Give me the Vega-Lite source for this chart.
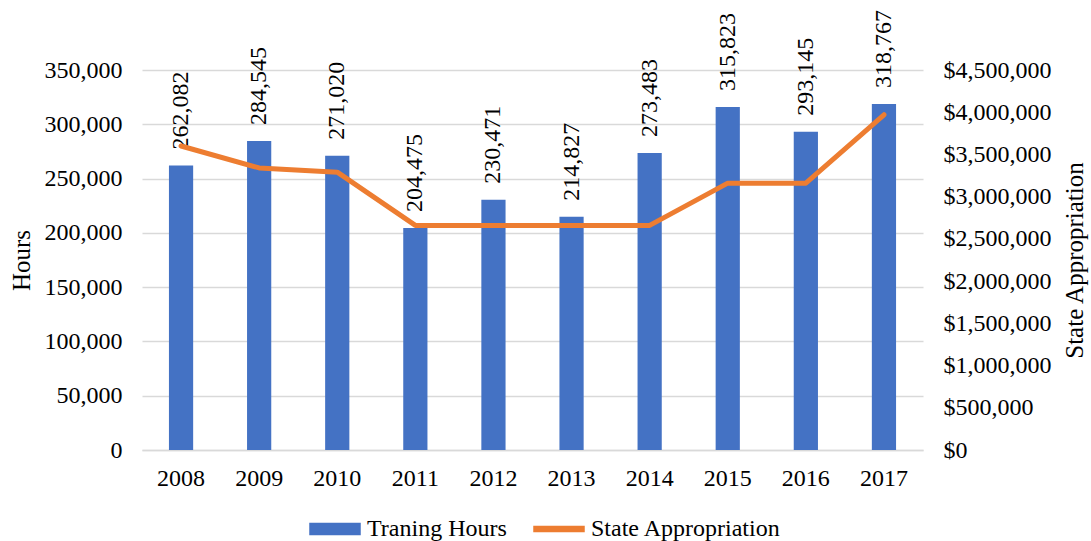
{
  "$schema": "https://vega.github.io/schema/vega-lite/v6.json",
  "width": 781,
  "height": 380,
  "autosize": {"type": "none"},
  "padding": {"left": 142, "top": 70, "right": 168, "bottom": 91},
  "background": "white",
  "config": {
    "view": {"stroke": null},
    "font": "Liberation Serif",
    "axis": {"labelFont": "Liberation Serif", "titleFont": "Liberation Serif", "labelColor": "#000000", "titleColor": "#000000", "labelFontSize": 24, "titleFontSize": 25, "titleFontWeight": "normal", "labelOverlap": false},
    "legend": {"labelFont": "Liberation Serif", "labelFontSize": 24, "labelColor": "#000000", "labelLimit": 0}
  },
  "data": {
    "values": [
      {"year": "2008", "hours": 262082, "appropriation": 3600000},
      {"year": "2009", "hours": 284545, "appropriation": 3340000},
      {"year": "2010", "hours": 271020, "appropriation": 3290000},
      {"year": "2011", "hours": 204475, "appropriation": 2660000},
      {"year": "2012", "hours": 230471, "appropriation": 2660000},
      {"year": "2013", "hours": 214827, "appropriation": 2660000},
      {"year": "2014", "hours": 273483, "appropriation": 2660000},
      {"year": "2015", "hours": 315823, "appropriation": 3160000},
      {"year": "2016", "hours": 293145, "appropriation": 3160000},
      {"year": "2017", "hours": 318767, "appropriation": 3970000}
    ]
  },
  "encoding": {
    "x": {
      "field": "year",
      "type": "ordinal",
      "scale": {"paddingInner": 0.69, "paddingOuter": 0.345},
      "axis": {"title": null, "labelAngle": 0, "ticks": false, "domainColor": "#D9D9D9", "domainWidth": 1.5, "labelPadding": 16}
    }
  },
  "layer": [
    {
      "layer": [
        {
          "mark": {"type": "bar", "color": "#4472C4"},
          "encoding": {
            "y": {
              "field": "hours",
              "type": "quantitative",
              "scale": {"domain": [0, 350000], "nice": false},
              "axis": {"title": "Hours", "format": ",d", "values": [0, 50000, 100000, 150000, 200000, 250000, 300000, 350000], "domain": false, "ticks": false, "gridColor": "#D9D9D9", "gridWidth": 1.5, "labelPadding": 20, "titlePadding": 10}
            },
            "color": {
              "datum": "Traning Hours",
              "type": "nominal",
              "scale": {"domain": ["Traning Hours", "State Appropriation"], "range": ["#4472C4", "#ED7D31"]},
              "legend": {
                "title": null,
                "orient": "none",
                "direction": "horizontal",
                "legendX": 167,
                "legendY": 433,
                "padding": 0,
                "columnPadding": 24,
                "labelOffset": 6,
                "labelLimit": 0,
                "symbolSize": 2500,
                "encode": {
                  "symbols": {
                    "update": {
                      "shape": {"signal": "datum.value === 'Traning Hours' ? 'M-1,-0.22H1V0.22H-1Z' : 'M-1,-0.1H1V0.1H-1Z'"},
                      "fill": {"signal": "datum.value === 'Traning Hours' ? '#4472C4' : '#ED7D31'"},
                      "stroke": {"value": "transparent"},
                      "opacity": {"value": 1}
                    }
                  }
                }
              }
            }
          }
        },
        {
          "mark": {"type": "text", "angle": 270, "align": "left", "baseline": "middle", "dx": 16, "fontSize": 24, "font": "Liberation Serif", "color": "#000000"},
          "encoding": {
            "y": {"field": "hours", "type": "quantitative"},
            "text": {"field": "hours", "type": "quantitative", "format": ",d"}
          }
        }
      ]
    },
    {
      "mark": {"type": "line", "color": "#ED7D31", "strokeWidth": 5, "strokeCap": "round", "strokeJoin": "round"},
      "encoding": {
        "y": {
          "field": "appropriation",
          "type": "quantitative",
          "scale": {"domain": [0, 4500000], "nice": false},
          "axis": {"title": "State Appropriation", "orient": "right", "format": "$,d", "values": [0, 500000, 1000000, 1500000, 2000000, 2500000, 3000000, 3500000, 4000000, 4500000], "grid": false, "domain": false, "ticks": false, "labelPadding": 20, "titleAngle": 270, "titleBaseline": "top", "titlePadding": 11}
        },
        "color": {"datum": "State Appropriation", "type": "nominal"}
      }
    }
  ],
  "resolve": {"scale": {"y": "independent"}}
}
